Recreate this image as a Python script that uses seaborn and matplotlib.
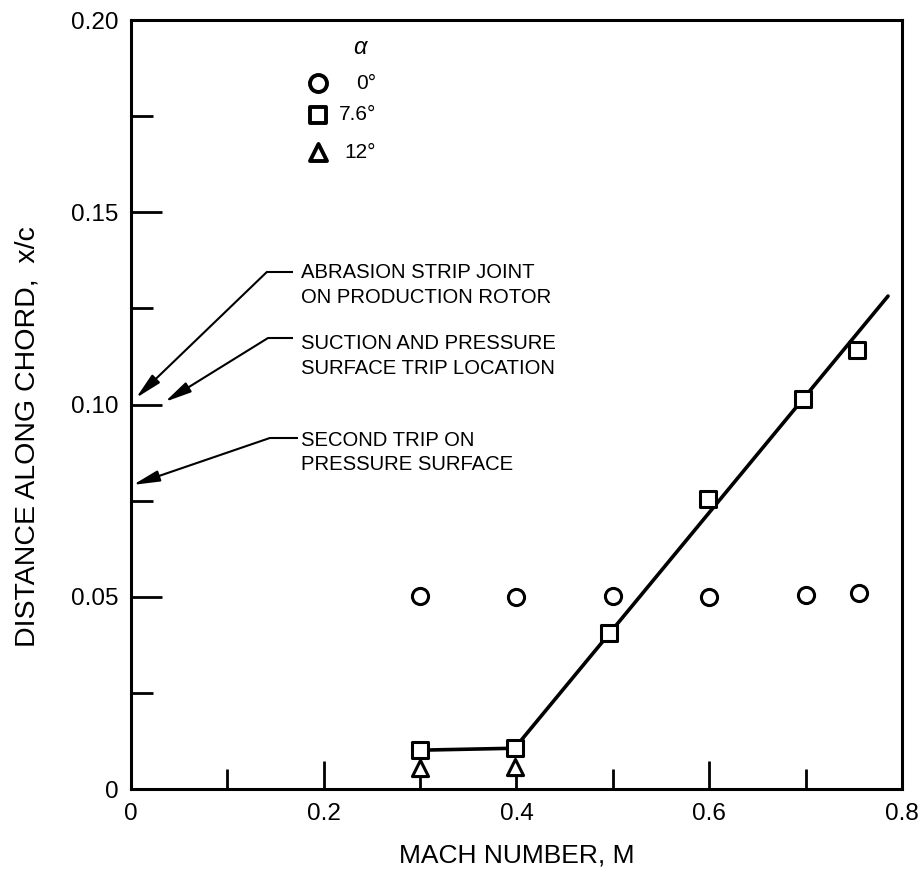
import matplotlib
matplotlib.use("Agg")
import matplotlib.pyplot as plt
import seaborn as sns
import pandas as pd

# Transition location measurements, x/c versus Mach number, for three angles of attack
mach_a0 = [0.300, 0.400, 0.500, 0.600, 0.700, 0.755]
xc_a0 = [0.0502, 0.0499, 0.0502, 0.0500, 0.0505, 0.0509]

mach_a76 = [0.300, 0.398, 0.496, 0.599, 0.697, 0.753]
xc_a76 = [0.0101, 0.0106, 0.0405, 0.0753, 0.1014, 0.1142]

mach_a12 = [0.300, 0.398]
xc_a12 = [0.0055, 0.0057]

# Faired curve through the 7.6 deg data
fair_mach = [0.300, 0.398, 0.7855]
fair_xc = [0.0101, 0.0106, 0.1282]

legend_labels = ["0°", "7.6°", "12°"]
x_ticks = [0, 0.2, 0.4, 0.6, 0.8]
x_tick_labels = ["0", "0.2", "0.4", "0.6", "0.8"]
y_ticks = [0, 0.05, 0.10, 0.15, 0.20]
y_tick_labels = ["0", "0.05", "0.10", "0.15", "0.20"]

# Reference locations marked on the chord axis
notes = [
    "ABRASION STRIP JOINT\nON PRODUCTION ROTOR",
    "SUCTION AND PRESSURE\nSURFACE TRIP LOCATION",
    "SECOND TRIP ON\nPRESSURE SURFACE",
]

sns.set_theme(style="ticks")
plt.rcParams["font.family"] = ["Liberation Sans", "DejaVu Sans"]

fig = plt.figure(figsize=(9.22, 8.85), dpi=100)
ax = fig.add_axes([0.14208, 0.10847, 0.83623, 0.86893])

df0 = pd.DataFrame({"M": mach_a0, "xc": xc_a0})
df76 = pd.DataFrame({"M": mach_a76, "xc": xc_a76})
df12 = pd.DataFrame({"M": mach_a12, "xc": xc_a12})
dff = pd.DataFrame({"M": fair_mach, "xc": fair_xc})

sns.lineplot(data=dff, x="M", y="xc", color="black", lw=2.6, ax=ax, zorder=2,
             sort=False)

mk = dict(facecolor="white", edgecolor="black", linewidth=2.2, ax=ax, zorder=3,
          legend=False)
sns.scatterplot(data=df0, x="M", y="xc", marker="o", s=135, **mk)
sns.scatterplot(data=df76, x="M", y="xc", marker="s", s=120, **mk)
sns.scatterplot(data=df12, x="M", y="xc", marker="^", s=135, **mk)

ax.set_xlim(0, 0.8)
ax.set_ylim(0, 0.20)
ax.set_xticks(x_ticks)
ax.set_xticklabels(x_tick_labels)
ax.set_xticks([0.1, 0.3, 0.5, 0.7], minor=True)
ax.set_yticks(y_ticks)
ax.set_yticklabels(y_tick_labels)
ax.set_yticks([0.025, 0.075, 0.125, 0.175], minor=True)

ax.tick_params(axis="both", which="both", direction="in", color="black",
               width=2.0, labelsize=17.5, labelcolor="black")
ax.tick_params(axis="y", which="major", length=22, pad=9)
ax.tick_params(axis="y", which="minor", length=16)
ax.tick_params(axis="x", which="major", length=20, pad=10)
ax.tick_params(axis="x", which="minor", length=14.5)

for sp in ax.spines.values():
    sp.set_visible(True)
    sp.set_linewidth(2.2)
    sp.set_color("black")

ax.set_xlabel("MACH NUMBER, M", fontsize=19, color="black")
ax.set_ylabel("DISTANCE ALONG CHORD,  x/c", fontsize=20.5, color="black")
ax.xaxis.set_label_coords(0.5, -0.071)
ax.yaxis.set_label_coords(-0.117, 0.458)

# Leader lines: tip on the axis, elbow, end of horizontal run, text anchor
leaders = [
    ((0.0052, 0.1017), (0.1411, 0.1345), (0.1681, 0.1345), (0.1764, 0.1311)),
    ((0.0353, 0.1007), (0.1422, 0.1173), (0.1681, 0.1173), (0.1764, 0.1126)),
    ((0.0021, 0.0791), (0.1442, 0.0913), (0.1733, 0.0913), (0.1764, 0.0876)),
]
for note, (tip, elbow, hend, txt) in zip(notes, leaders):
    ax.plot([elbow[0], hend[0]], [elbow[1], hend[1]], color="black", lw=1.5,
            solid_capstyle="butt", clip_on=False)
    ax.annotate("", xy=tip, xytext=elbow,
                arrowprops=dict(arrowstyle="-|>,head_length=0.8,head_width=0.17",
                                color="black", lw=1.5, shrinkA=0, shrinkB=0,
                                mutation_scale=20))
    ax.text(txt[0], txt[1], note, ha="left", va="center", fontsize=14.6,
            linespacing=1.35, color="black")

# Symbol key for angle of attack
ax.text(0.297, 0.9636, "α", transform=ax.transAxes, ha="center", va="center",
        fontsize=17, style="italic", color="black")
key_markers = ["o", "s", "^"]
key_y = [0.918, 0.8765, 0.828]
key_s = [150, 130, 150]
for m, yy, lab, ss in zip(key_markers, key_y, legend_labels, key_s):
    ax.scatter([0.2425], [yy], marker=m, s=ss, facecolor="white",
               edgecolor="black", linewidth=2.8, transform=ax.transAxes,
               clip_on=False, zorder=3)
    ax.text(0.318, yy, lab, transform=ax.transAxes, ha="right", va="center",
            fontsize=15, color="black")

fig.savefig("out.png", dpi=100)
